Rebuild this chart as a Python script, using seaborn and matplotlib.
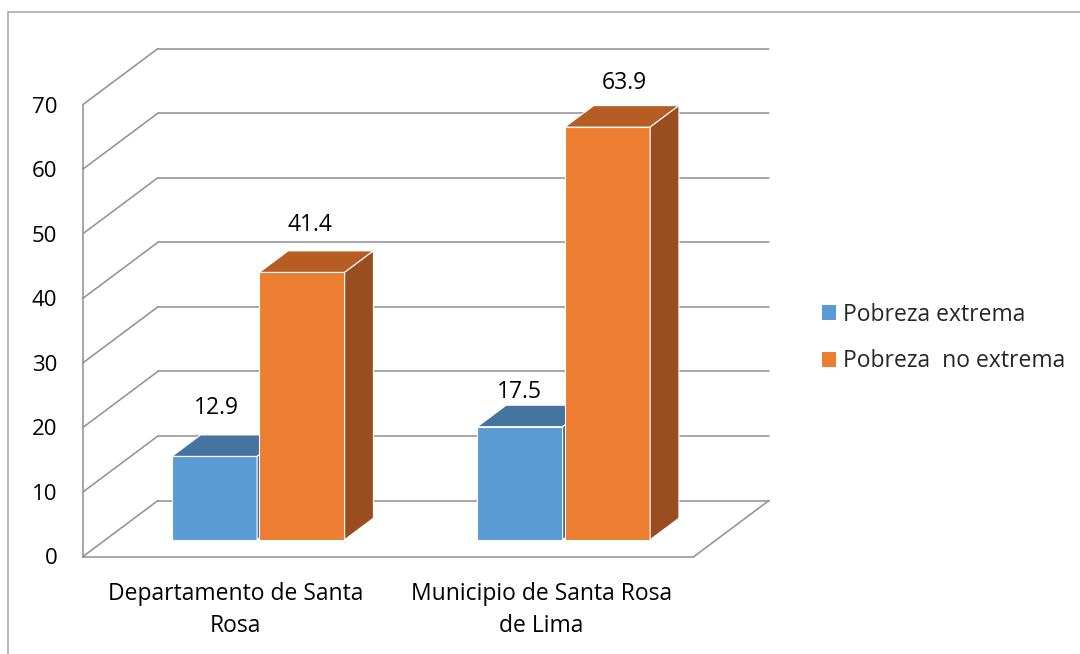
import numpy as np
import pandas as pd
import matplotlib
matplotlib.use("Agg")
import matplotlib.pyplot as plt
import matplotlib.colors as mcolors
import seaborn as sns
from matplotlib.patches import Polygon, Patch
from matplotlib.lines import Line2D

# ---------------- data ----------------
categorias = ["Departamento de Santa\nRosa", "Municipio de Santa Rosa\nde Lima"]
series = ["Pobreza extrema", "Pobreza  no extrema"]
pobreza_extrema = [12.9, 17.5]
pobreza_no_extrema = [41.4, 63.9]
yticks = [0, 10, 20, 30, 40, 50, 60, 70]

# ---------------- style ----------------
front_colors = ["#5B9BD5", "#ED7D31"]
top_colors = ["#44749F", "#B65D24"]
side_colors = ["#3A6690", "#9A4E1F"]
grid_color = "#8F8F8F"
# value label offsets in pixels (dx, dy) from the top centre of each bar's front face
label_offsets = {
    "Pobreza extrema": [(2, 48), (-1, 35)],
    "Pobreza  no extrema": [(8, 47), (17, 44)],
}

df = pd.DataFrame({
    "categoria": categorias * 2,
    "serie": [series[0]] * len(categorias) + [series[1]] * len(categorias),
    "valor": pobreza_extrema + pobreza_no_extrema,
})

sns.set_theme(style="white")
plt.rcParams["font.family"] = ["Open Sans", "DejaVu Sans"]

W, H = 1080, 654
PXX = 305.5        # pixels per category unit
PXY = 6.457        # pixels per value unit
YMAX = 80
XMIN = -0.5
XMAX = XMIN + (768 - 83) / PXX
DX = 75 / PXX      # full depth, x
DY = 56 / PXY      # full depth, y
F0 = 0.30          # depth at which bar front sits
F1 = 0.384         # bar depth

fig = plt.figure(figsize=(W / 100, H / 100), dpi=100)
ax = fig.add_axes([83 / W, (H - 556.5) / H, (768 - 83) / W, YMAX * PXY / H])

sns.barplot(data=df, x="categoria", y="valor", hue="serie", palette=front_colors,
            saturation=1, width=0.573, gap=0.026, ax=ax, legend=False,
            edgecolor="white", linewidth=0.8)

ax.set_xlim(XMIN, XMAX)
ax.set_ylim(0, YMAX)
ax.set_xlabel("")
ax.set_ylabel("")

# ---- walls / gridlines ----
for v in yticks:
    ax.plot([XMIN, XMIN + DX], [v, v + DY], color=grid_color, lw=1.1, zorder=1, clip_on=False)
    ax.plot([XMIN + DX, 1.5 + DX], [v + DY, v + DY], color=grid_color, lw=1.1, zorder=1, clip_on=False)
ax.plot([1.5, 1.5 + DX], [0, DY], color=grid_color, lw=1.1, zorder=1, clip_on=False)

for s in ["top", "right"]:
    ax.spines[s].set_visible(False)
ax.spines["left"].set_bounds(0, 70)
ax.spines["bottom"].set_bounds(XMIN, 1.5)
for s in ["left", "bottom"]:
    ax.spines[s].set_color(grid_color)
    ax.spines[s].set_linewidth(1.1)
    ax.spines[s].set_zorder(1)

# ---- 3D faces ----
front_hex = [mcolors.to_hex(c).lower() for c in front_colors]
for p in list(ax.patches):
    fc = mcolors.to_hex(p.get_facecolor()).lower()
    if fc not in front_hex:
        continue
    k = front_hex.index(fc)
    w = p.get_width()
    h = p.get_height()
    cat = int(round(p.get_x() + w / 2))
    x0 = p.get_x() + DX * F0
    y0 = p.get_y() + DY * F0
    p.set_x(x0)
    p.set_y(y0)
    z = 5 + x0
    p.set_zorder(z)
    p.set_clip_on(False)
    ddx, ddy = DX * F1, DY * F1
    top = Polygon([(x0, y0 + h), (x0 + w, y0 + h), (x0 + w + ddx, y0 + h + ddy), (x0 + ddx, y0 + h + ddy)],
                  closed=True, facecolor=top_colors[k], edgecolor="white", lw=0.8, zorder=z, clip_on=False)
    side = Polygon([(x0 + w, y0), (x0 + w + ddx, y0 + ddy), (x0 + w + ddx, y0 + h + ddy), (x0 + w, y0 + h)],
                   closed=True, facecolor=side_colors[k], edgecolor="white", lw=0.8, zorder=z, clip_on=False)
    ax.add_patch(top)
    ax.add_patch(side)
    off = label_offsets[series[k]][cat]
    ax.annotate(f"{h:.1f}", xy=(x0 + w / 2, y0 + h), xytext=off, textcoords="offset pixels",
                ha="center", va="center", fontsize=16.5, color="black", zorder=20)

# ---- ticks ----
ax.set_yticks(yticks)
ax.set_yticklabels([str(v) for v in yticks])
ax.tick_params(axis="y", length=0, pad=18.4, labelsize=16, labelcolor="black")
ax.set_xticks([0, 1])
ax.set_xticklabels(categorias, linespacing=1.5)
ax.tick_params(axis="x", length=0, pad=18, labelsize=16.5, labelcolor="black")

# ---- legend ----
handles = [Patch(facecolor=c, edgecolor="none") for c in front_colors]
fig.legend(handles, series, loc="center left", bbox_to_anchor=(821.7 / W, (H - 338) / H),
           frameon=False, fontsize=16.5, handlelength=0.61, handleheight=0.61,
           handletextpad=0.33, labelspacing=0.98, borderpad=0, borderaxespad=0)

# ---- outer border (top and left visible) ----
fig.add_artist(Line2D([7.5 / W, 1], [1 - 11.5 / H] * 2, transform=fig.transFigure, color="#ADADAD", lw=1.2))
fig.add_artist(Line2D([7.5 / W, 7.5 / W], [0, 1 - 11.5 / H], transform=fig.transFigure, color="#ADADAD", lw=1.2))

fig.savefig("out.png", dpi=100, facecolor="white")
